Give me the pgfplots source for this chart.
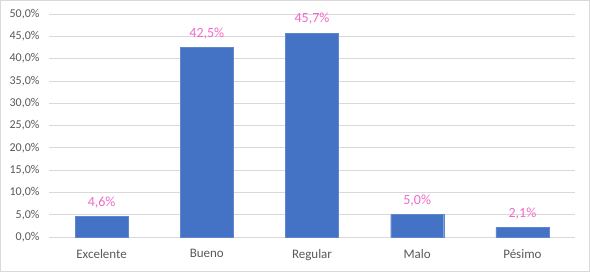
\documentclass[border=0pt]{standalone}
\usepackage{pgfplots}
\pgfplotsset{compat=1.18}
\usepackage{fontspec}
\setmainfont{Carlito}
\definecolor{barblue}{HTML}{4472C4}
\definecolor{lblpink}{RGB}{240,105,200}
\definecolor{tickgray}{HTML}{595959}
\definecolor{gridgray}{HTML}{D9D9D9}
\begin{document}
\begin{tikzpicture}
\begin{axis}[
  name=ax,
  scale only axis,
  width=526pt, height=223pt,
  xmin=-0.5, xmax=4.5,
  ymin=0, ymax=50,
  xtick={0,1,2,3,4},
  xticklabels={Excelente,Bueno,Regular,Malo,Pésimo},
  ytick={0,5,...,50},
  yticklabels={{0,0\%},{5,0\%},{10,0\%},{15,0\%},{20,0\%},{25,0\%},{30,0\%},{35,0\%},{40,0\%},{45,0\%},{50,0\%}},
  ymajorgrids,
  grid style={gridgray, line width=0.75pt},
  axis line style={draw=none},
  major tick length=0pt,
  xticklabel style={text=tickgray, font=\fontsize{13}{15}\selectfont, yshift=-9pt},
  yticklabel style={text=tickgray, font=\fontsize{12}{14}\selectfont, xshift=-6pt},
  clip=false,
  /pgf/number format/assume math mode=true,
]
\addplot[ybar, bar width=53pt, fill=barblue, draw=barblue!85!white,
  nodes near coords={\pgfmathprintnumber[use comma,fixed,fixed zerofill,precision=1,assume math mode=true]{\pgfplotspointmeta}\%},
  nodes near coords style={text=lblpink, font=\fontsize{14}{16}\selectfont, yshift=5pt},
] coordinates {
  (0,4.6)
  (1,42.5)
  (2,45.7)
  (3,5.0)
  (4,2.1)
};
\end{axis}
\draw[gridgray, line width=1pt] ([xshift=-48.5pt,yshift=-34.5pt]ax.south west) rectangle ([xshift=14.5pt,yshift=13.5pt]ax.north east);
\end{tikzpicture}
\end{document}
